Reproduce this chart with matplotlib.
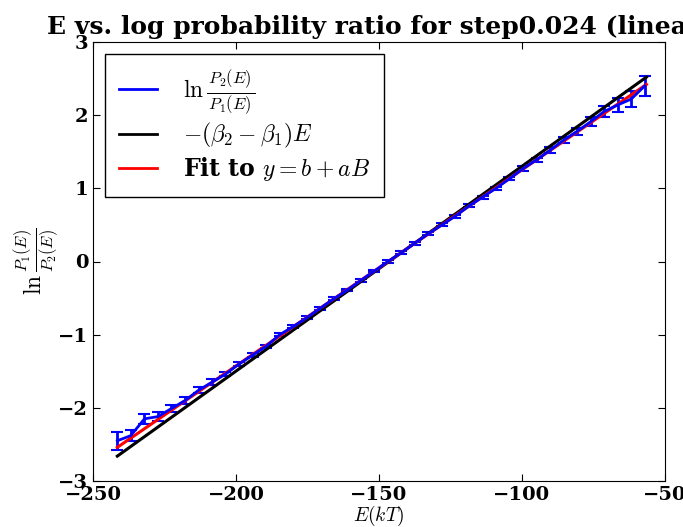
import matplotlib
matplotlib.use("Agg")
import matplotlib.pyplot as plt
from matplotlib.lines import Line2D

plt.rcParams.update({
    'font.family': 'serif',
    'font.serif': ['DejaVu Serif'],
    'font.weight': 'bold',
    'mathtext.fontset': 'cm',
    'xtick.direction': 'in',
    'ytick.direction': 'in',
    'xtick.top': True,
    'ytick.right': True,
    'xtick.major.size': 5,
    'ytick.major.size': 5,
    'xtick.labelsize': 14,
    'ytick.labelsize': 14,
})

# energy bins (kT)
energy = [-241.5, -236.8, -232.0, -227.3, -222.6, -217.8, -213.1, -208.4, -203.7, -198.9,
          -194.2, -189.5, -184.7, -180.0, -175.3, -170.6, -165.8, -161.1, -156.4, -151.6,
          -146.9, -142.2, -137.5, -132.7, -128.0, -123.3, -118.5, -113.8, -109.1, -104.4,
          -99.6, -94.9, -90.2, -85.4, -80.7, -76.0, -71.3, -66.5, -61.8, -57.1]
# measured log ratio and its error
log_ratio = [-2.45, -2.38, -2.15, -2.12, -2.01, -1.90, -1.76, -1.65, -1.54, -1.40,
             -1.28, -1.16, -1.00, -0.89, -0.77, -0.64, -0.51, -0.39, -0.26, -0.13,
             0.00, 0.12, 0.25, 0.38, 0.50, 0.62, 0.76, 0.88, 1.00, 1.13,
             1.27, 1.39, 1.52, 1.66, 1.78, 1.91, 2.05, 2.14, 2.22, 2.40]
log_err = [0.12, 0.08, 0.07, 0.06, 0.05, 0.05, 0.04, 0.04, 0.03, 0.03,
           0.03, 0.02, 0.02, 0.02, 0.02, 0.02, 0.02, 0.02, 0.02, 0.02,
           0.02, 0.02, 0.02, 0.02, 0.02, 0.02, 0.02, 0.02, 0.02, 0.02,
           0.03, 0.03, 0.04, 0.04, 0.05, 0.06, 0.07, 0.09, 0.11, 0.14]
# theory line and linear fit (end points)
line_e = [-241.5, -56.5]
theory = [-2.66, 2.52]
fit = [-2.54, 2.42]

fig = plt.figure(figsize=(6.83, 5.27), dpi=100)
ax = fig.add_axes([93/683, 46/527, 572/683, 439/527])

ax.errorbar(energy, log_ratio, yerr=log_err, color='blue', lw=2, capsize=4,
            elinewidth=2, capthick=1.5)
ax.plot(line_e, theory, color='black', lw=2.2)
ax.plot(line_e, fit, color='red', lw=2.2)

ax.set_xlim(-250, -50)
ax.set_ylim(-3, 3)
ax.set_xticks([-250, -200, -150, -100, -50])
ax.set_yticks([-3, -2, -1, 0, 1, 2, 3])
ax.set_xlabel(r'$E(kT)$', fontsize=14, labelpad=0)
ax.set_ylabel(r'$\ln\frac{P_1(E)}{P_2(E)}$', fontsize=17, labelpad=-2)
ax.set_title('E vs. log probability ratio for step0.024 (linear)',
             fontsize=18, fontweight='bold', pad=6)

handles = [Line2D([], [], color='blue', lw=2),
           Line2D([], [], color='black', lw=2),
           Line2D([], [], color='red', lw=2)]
labels = [r'$\ln\frac{\,P_2(E)\,}{\,P_1(E)\,}$', r'$-(\beta_2-\beta_1)E$',
          r'Fit to $y=b+aB$']
leg = ax.legend(handles, labels, loc='upper left', fontsize=17, fancybox=False,
                framealpha=1, edgecolor='black', handlelength=1.6,
                handletextpad=1.1, borderaxespad=0.5, borderpad=0.6,
                labelspacing=0.2)
leg.get_frame().set_linewidth(1)

fig.savefig('out.png', dpi=100)
